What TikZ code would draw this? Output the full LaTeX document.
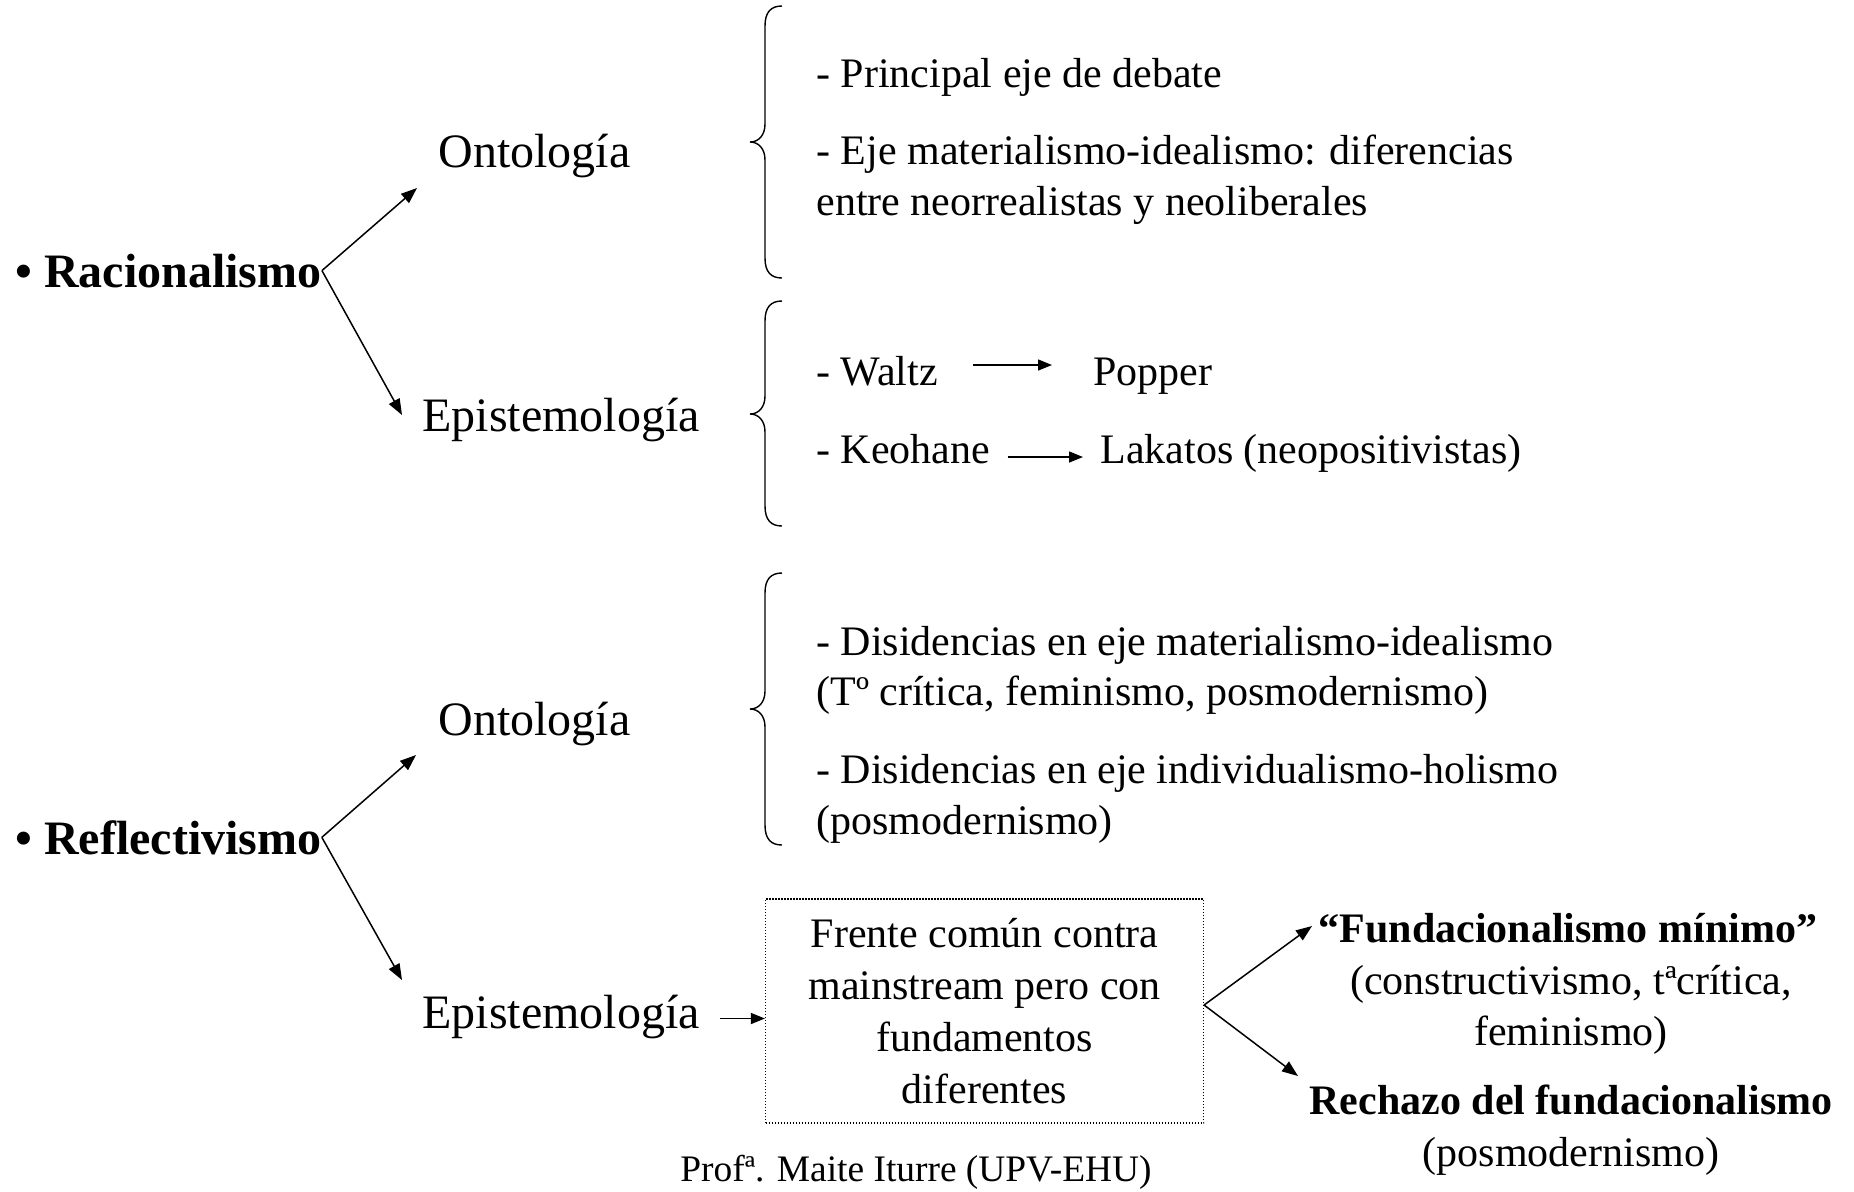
\documentclass[tikz,border=0pt]{standalone}
\usepackage{fontspec}
\setmainfont{Liberation Serif}
\usetikzlibrary{arrows.meta,calc}
\begin{document}
\begin{tikzpicture}[x=0.5pt,y=-0.5pt,
  arr/.style={-{Triangle[length=8pt,width=6pt]}, line width=0.75pt},
  sarr/.style={-{Triangle[length=7pt,width=5.5pt]}, line width=0.75pt},
  brc/.style={line width=0.7pt},
  head/.style={inner sep=0pt, anchor=base west, font=\fontsize{24}{28}\selectfont\bfseries},
  big/.style={inner sep=0pt, anchor=base west, font=\fontsize{24}{28}\selectfont},
  sub/.style={inner sep=0pt, anchor=base west, font=\fontsize{21}{25.5}\selectfont},
  ctr/.style={inner sep=0pt, anchor=base, font=\fontsize{21}{25.5}\selectfont},
  ctrb/.style={inner sep=0pt, anchor=base, font=\fontsize{21}{25.5}\selectfont\bfseries},
  boxst/.style={draw, line width=0.6pt, dash pattern=on 0.6pt off 0.9pt, inner sep=0pt,
    minimum width=219pt, minimum height=112pt, align=center,
    font=\fontsize{21}{26}\selectfont}]
\useasboundingbox (0,0) rectangle (1854,1191);

% ---------- Racionalismo ----------
\node[head] (rac) at (15,287) {• Racionalismo};
\node[big] (ont1) at (438,167) {Ontología};
\node[big] (epi1) at (422,431) {Epistemología};
\coordinate (t1) at (417,188);
\coordinate (t2) at (402,415);
\draw[arr] (rac.east) -- (t1);
\draw[arr] (rac.east) -- (t2);

% brace 1
\draw[brc] (782,6) .. controls (771,6) and (765,12) .. (765,26) -- (765,124)
  .. controls (765,136) and (758,142) .. (750,142)
  .. controls (758,142) and (765,148) .. (765,160) -- (765,258)
  .. controls (765,272) and (771,278) .. (782,278);
\node[sub] (r1) at (816,87) {- Principal eje de debate};
\node[sub] (r2) at (816,164) {- Eje materialismo-idealismo: diferencias};
\node[sub] (r3) at (816,215) {entre neorrealistas y neoliberales};

% brace 2
\draw[brc] (782,301) .. controls (771,301) and (765,307) .. (765,321) -- (765,396)
  .. controls (765,408) and (758,414) .. (750,414)
  .. controls (758,414) and (765,420) .. (765,432) -- (765,506)
  .. controls (765,520) and (771,526) .. (782,526);
\node[sub] (waltz) at (816,385) {- Waltz};
\node[sub] (popper) at (1093,385) {Popper};
\node[sub] (keo) at (816,463) {- Keohane};
\node[sub] (lak) at (1100,463) {Lakatos (neopositivistas)};
\draw[sarr] ($(waltz.base east)+(35,-20)$) -- ($(popper.base west)+(-41,-20)$);
\draw[sarr] ($(keo.base east)+(17,-6)$) -- ($(lak.base west)+(-17,-6)$);

% ---------- Reflectivismo ----------
\node[head] (ref) at (15,854) {• Reflectivismo};
\node[big] (ont2) at (438,735) {Ontología};
\node[big] (epi2) at (422,1028) {Epistemología};
\coordinate (t3) at (416,755);
\coordinate (t4) at (402,980);
\draw[arr] (ref.east) -- (t3);
\draw[arr] (ref.east) -- (t4);

% brace 3
\draw[brc] (782,573) .. controls (771,573) and (765,579) .. (765,593) -- (765,691)
  .. controls (765,703) and (758,709) .. (750,709)
  .. controls (758,709) and (765,715) .. (765,727) -- (765,825)
  .. controls (765,839) and (771,845) .. (782,845);
\node[sub] (d1) at (816,655) {- Disidencias en eje materialismo-idealismo};
\node[sub] (d2) at (816,705) {(Tº crítica, feminismo, posmodernismo)};
\node[sub] (d3) at (816,783) {- Disidencias en eje individualismo-holismo};
\node[sub] (d4) at (816,834) {(posmodernismo)};

% box
\node[boxst] (box) at (984.5,1011) {Frente común contra\\mainstream pero con\\fundamentos\\diferentes};
\draw[sarr] ([xshift=10pt,yshift=-1pt]epi2.east) -- ([yshift=-1pt]epi2.east -| box.west);

% right side
\node[ctrb] (fm) at (1568,942) {“Fundacionalismo mínimo”};
\node[ctr] (fm2) at (1571,994) {(constructivismo, tªcrítica,};
\node[ctr] (fm3) at (1571,1045) {feminismo)};
\node[ctrb] (rech) at (1571,1114) {Rechazo del fundacionalismo};
\node[ctr] (rech2) at (1571,1166) {(posmodernismo)};
\coordinate (bx) at ([yshift=3pt]box.east);
\coordinate (t5) at (1312,926);
\coordinate (t6) at (1298,1076);
\draw[arr] (bx) -- (t5);
\draw[arr] (bx) -- (t6);

% footer
\node[inner sep=0pt, anchor=base, font=\fontsize{18.7}{22}\selectfont] (foot) at (916,1181) {Profª. Maite Iturre (UPV-EHU)};
\end{tikzpicture}
\end{document}
